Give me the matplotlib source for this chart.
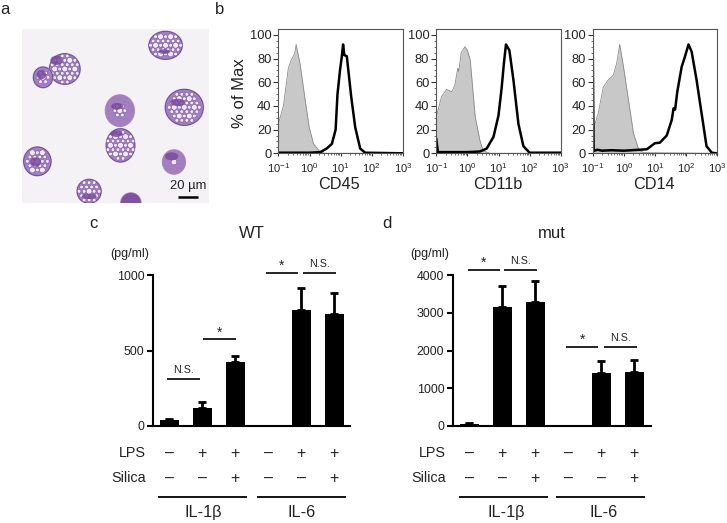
import numpy as np
import matplotlib
matplotlib.use('Agg')
import matplotlib.pyplot as plt
from matplotlib.patches import Ellipse

plt.rcParams['font.family'] = ['Liberation Sans', 'DejaVu Sans']
plt.rcParams['mathtext.default'] = 'regular'

W, H = 727, 523
TXT = '#222222'

# flow histograms, x is log10 of intensity
cd45_grey_x = [-1, -0.84, -0.68, -0.6, -0.52, -0.47, -0.43, -0.3, -0.14, -0.01, 0.13, 0.35, 0.5, 3]
cd45_grey_y = [25, 40, 72, 78, 82, 85, 92, 75, 45, 22, 8, 1, 0, 0]
cd45_black_x = [-1, 0, 0.35, 0.55, 0.72, 0.84, 0.9, 0.98, 1.04, 1.08, 1.12, 1.2, 1.27, 1.34, 1.47, 1.63, 1.79, 3]
cd45_black_y = [0.5, 0.5, 1, 4, 8, 20, 50, 70, 82, 92, 83, 82, 65, 48, 22, 4, 0.5, 0]

cd11b_grey_x = [-1, -0.83, -0.67, -0.5, -0.4, -0.31, -0.28, -0.2, -0.08, 0, 0.09, 0.25, 0.41, 0.51, 0.73, 3]
cd11b_grey_y = [31, 48, 54, 52, 58, 72, 69, 85, 90, 87, 79, 31, 10, 2, 0, 0]
cd11b_black_x = [-1, -0.95, 0, 0.4, 0.62, 0.84, 1, 1.1, 1.17, 1.24, 1.35, 1.48, 1.64, 1.8, 2, 3]
cd11b_black_y = [12, 1, 1, 1.5, 4, 14, 32, 55, 75, 92, 87, 62, 25, 6, 0.5, 0.5]

cd14_grey_x = [-0.98, -0.96, -0.82, -0.66, -0.5, -0.34, -0.23, -0.13, -0.01, 0.15, 0.31, 0.47, 0.63, 3]
cd14_grey_y = [0, 22, 34, 56, 62, 66, 76, 92, 73, 45, 17, 4, 0.5, 0]
cd14_black_x = [-1, -0.97, -0.85, -0.7, -0.4, 0, 0.74, 1, 1.16, 1.38, 1.54, 1.6, 1.65, 1.72, 1.86, 1.97, 2.08, 2.18, 2.34, 2.5, 2.66, 2.83, 3]
cd14_black_y = [90, 2, 3, 2.2, 2.6, 2.2, 3.4, 8.5, 9, 15, 28, 38, 37, 52, 73, 82, 92, 86, 62, 34, 6, 0.5, 0]

flow_names = ['CD45', 'CD11b', 'CD14']
flow_lefts = [278.4, 436.3, 592.7]
flow_grey = [(cd45_grey_x, cd45_grey_y), (cd11b_grey_x, cd11b_grey_y), (cd14_grey_x, cd14_grey_y)]
flow_black = [(cd45_black_x, cd45_black_y), (cd11b_black_x, cd11b_black_y), (cd14_black_x, cd14_black_y)]
flow_xticks = [-1, 0, 1, 2, 3]
flow_xlabels = ['$10^{-1}$', '$10^{0}$', '$10^{1}$', '$10^{2}$', '$10^{3}$']
flow_yticks = [0, 20, 40, 60, 80, 100]

# cytokine bars
wt_values = [35, 120, 425, 0, 770, 740]
wt_errors = [10, 35, 40, 0, 145, 140]
mut_values = [50, 3150, 3280, 0, 1410, 1420]
mut_errors = [10, 570, 580, 0, 310, 320]
lps_signs = ['–', '+', '+', '–', '+', '+']
silica_signs = ['–', '–', '+', '–', '–', '+']

# micrograph cells: x, y, rx, ry, how far the vacuoles reach
cells = [(497, 137, 50, 42, 0.92), (195, 208, 46, 46, 0.92), (130, 233, 29, 31, 0.8),
         (360, 333, 43, 47, 0.55), (553, 323, 57, 54, 0.92), (362, 437, 43, 50, 0.92),
         (113, 485, 41, 43, 0.9), (522, 487, 34, 36, 0.4), (268, 575, 36, 36, 0.85),
         (393, 610, 30, 30, 0)]
nuclei = [(493, 156, 17, 7), (170, 182, 18, 14), (125, 225, 14, 14), (352, 320, 18, 10),
          (533, 308, 22, 11), (350, 402, 18, 10), (108, 487, 16, 14), (515, 470, 20, 12),
          (268, 590, 22, 8), (393, 610, 30, 30)]


def px_axes(left, top, right, bottom):
    return fig.add_axes([left / W, 1 - bottom / H, (right - left) / W, (bottom - top) / H])


fig = plt.figure(figsize=(W / 100, H / 100), dpi=100)

# panel a
ax_img = px_axes(22, 29, 209, 203)
ax_img.set_xlim(67, 627)
ax_img.set_ylim(610, 88)
ax_img.set_facecolor('#f4f2f4')
ax_img.set_xticks([])
ax_img.set_yticks([])
for s in ax_img.spines.values():
    s.set_visible(False)
for (cx, cy, rx, ry, reach), (nx, ny, nrx, nry) in zip(cells, nuclei):
    ax_img.add_patch(Ellipse((cx, cy), 2 * rx + 5, 2 * ry + 5, color='#c4a6d2', lw=0))
    ax_img.add_patch(Ellipse((cx, cy), 2 * rx, 2 * ry, fc='#a47fc0',
                             ec='#5d4a96' if reach > 0.7 else '#a47fc0', lw=0.6))
    for row in range(-5, 6):
        for col in range(-5, 6):
            vx = col * 15 + (row % 2) * 7.5
            vy = row * 13
            d = (vx / rx) ** 2 + (vy / ry) ** 2
            if d < reach ** 2:
                size = 17 if (row + 2 * col) % 4 == 0 and d < 0.5 else 11
                ax_img.add_patch(Ellipse((cx + vx, cy + vy), size, size, fc='#f1e9f3',
                                         ec='#6f4f9c', lw=0.35))
    ax_img.add_patch(Ellipse((nx, ny), 2 * nrx, 2 * nry, color='#7a4aa0', lw=0, alpha=0.85))

# panel b
for i, name in enumerate(flow_names):
    ax = px_axes(flow_lefts[i], 29.3, flow_lefts[i] + 124.4, 153.3)
    ax.fill_between(flow_grey[i][0], flow_grey[i][1], color='#c8c8c8', lw=0)
    ax.plot(flow_grey[i][0], flow_grey[i][1], color='#8a8a8a', lw=0.6)
    ax.plot(flow_black[i][0], flow_black[i][1], color='black', lw=1.8, solid_joinstyle='round')
    ax.set_xlim(-1, 3)
    ax.set_ylim(0, 104.8)
    ax.set_xticks(flow_xticks)
    ax.set_xticklabels(flow_xlabels)
    minor = [d + np.log10(m) for d in range(-1, 3) for m in range(2, 10)]
    ax.set_xticks(minor, minor=True)
    ax.set_yticks(flow_yticks)
    ax.set_yticks(range(0, 101, 5), minor=True)
    ax.tick_params(axis='y', which='major', length=3.5, width=0.8, color='#333333',
                   labelsize=9.3, labelcolor=TXT, pad=1.5)
    ax.tick_params(axis='x', which='major', length=2.5, width=0.8, color='#333333',
                   labelsize=8, labelcolor=TXT, pad=3)
    ax.tick_params(axis='both', which='minor', length=1.5, width=0.5, color='#333333')
    for s in ax.spines.values():
        s.set_color('#555555')
        s.set_linewidth(0.8)
    ax.patch.set_alpha(0)


def bar_panel(left, right, values, errors, ymax, yticks):
    ax = px_axes(left, 275.3, right, 425.7)
    pos = np.arange(len(values))
    ax.bar(pos, values, width=0.585, color='black')
    ax.errorbar(pos, values, yerr=[np.zeros(len(errors)), errors], fmt='none', ecolor='black',
                elinewidth=2, capsize=2.8, capthick=2)
    ax.set_xlim((left - (left + 16)) / 33, (right - (left + 16)) / 33)
    ax.set_ylim(0, ymax)
    ax.set_yticks(yticks)
    ax.set_xticks([])
    ax.tick_params(axis='y', length=4, width=1.5, labelsize=8.9, labelcolor=TXT, pad=2.5)
    ax.spines['top'].set_visible(False)
    ax.spines['right'].set_visible(False)
    ax.spines['left'].set_linewidth(1.5)
    ax.spines['bottom'].set_linewidth(1.5)
    ax.patch.set_alpha(0)
    return ax


bar_panel(153.3, 350, wt_values, wt_errors, 1000, [0, 500, 1000])
bar_panel(453.3, 650.7, mut_values, mut_errors, 4000, [0, 1000, 2000, 3000, 4000])

# everything that sits around the axes, in pixels
over = fig.add_axes([0, 0, 1, 1])
over.set_xlim(0, W)
over.set_ylim(H, 0)
over.axis('off')


def label(x, y, s, size, ha='center', rot=0):
    over.text(x, y, s, fontsize=size, ha=ha, va='center', color=TXT, rotation=rot)


def rule(x0, x1, y, lw=1.2):
    over.plot([x0, x1], [y, y], color='black', lw=lw, solid_capstyle='butt')


for x, y, s in [(5, 9, 'a'), (220, 9, 'b'), (93, 224, 'c'), (387, 224, 'd')]:
    label(x, y, s, 12)

over.plot([178, 198], [197, 197], color='black', lw=1.8, solid_capstyle='butt')
label(188, 186, '20 µm', 9.4)

label(239, 93, '% of Max', 12, rot=90)
for i, name in enumerate(flow_names):
    label(flow_lefts[i] + 61, 184.5, name, 11.7)

label(252, 233, 'WT', 12)
label(552, 233, 'mut', 12)
label(130, 254, '(pg/ml)', 9)
label(430, 254, '(pg/ml)', 9)

for x0, x1, y, s, ty in [(167.3, 200, 379, 'N.S.', 370), (203.3, 236, 339, '*', 333),
                         (265.7, 298, 272.7, '*', 266), (302.7, 335.7, 272.7, 'N.S.', 263.7),
                         (467.7, 500, 270, '*', 263), (504.3, 536.7, 270, 'N.S.', 260.7),
                         (566, 598.3, 347, '*', 340), (603.7, 636.7, 347, 'N.S.', 338.3)]:
    rule(x0, x1, y)
    label((x0 + x1) / 2, ty, s, 7.7 if s != '*' else 10)

for first, lab_x, g1, g2, c1, c2 in [(169.3, 146, (158.3, 246.7), (256.7, 345.7), 203.3, 301.7),
                                     (469.3, 445.5, (459.3, 547.7), (555.7, 644.7), 506, 603.3)]:
    label(lab_x, 453.3, 'LPS', 10.4, ha='right')
    label(lab_x, 478.3, 'Silica', 10.4, ha='right')
    for i in range(6):
        label(first + 33 * i, 453.3, lps_signs[i], 11.5)
        label(first + 33 * i, 478.3, silica_signs[i], 11.5)
    rule(g1[0], g1[1], 497.3, 1.3)
    rule(g2[0], g2[1], 497.3, 1.3)
    label(c1, 512.3, 'IL-1β', 11.7)
    label(c2, 512.3, 'IL-6', 11.7)

fig.savefig('out.png', dpi=100)
